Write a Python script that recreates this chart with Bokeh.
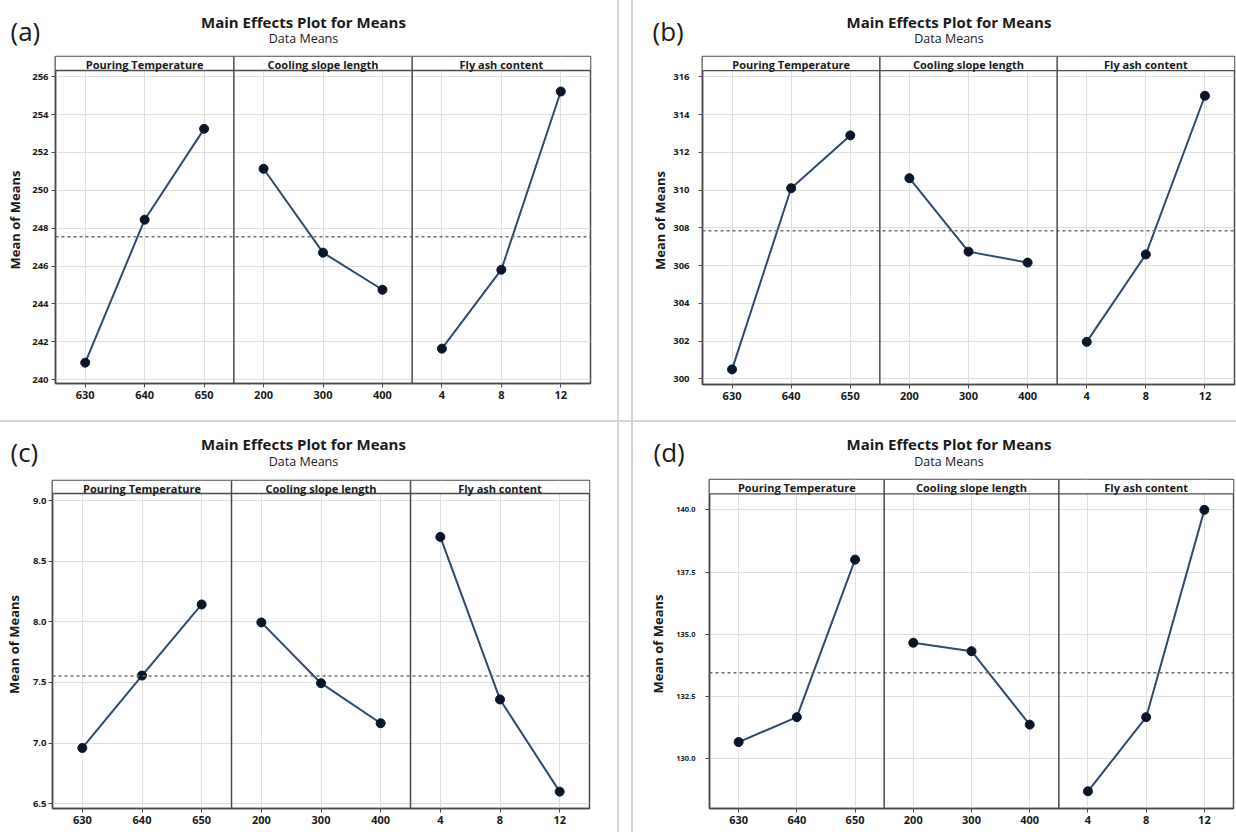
from bokeh.plotting import figure
from bokeh.models import Range1d, FixedTicker, Span, BoxAnnotation, Label, Div, NumeralTickFormatter
from bokeh.layouts import row, column
from bokeh.embed import file_html
from bokeh.resources import INLINE

# ---------------- data ----------------
factors = ["Pouring Temperature", "Cooling slope length", "Fly ash content"]
pouring_levels = ["630", "640", "650"]
cooling_levels = ["200", "300", "400"]
flyash_levels = ["4", "8", "12"]

a_pouring = [240.9, 248.45, 253.25]
a_cooling = [251.14, 246.71, 244.75]
a_flyash = [241.64, 245.81, 255.22]
a_mean = 247.55
a_yticks = [240, 242, 244, 246, 248, 250, 252, 254, 256]

b_pouring = [300.5, 310.1, 312.9]
b_cooling = [310.63, 306.74, 306.16]
b_flyash = [301.96, 306.59, 315.0]
b_mean = 307.85
b_yticks = [300, 302, 304, 306, 308, 310, 312, 314, 316]

c_pouring = [6.96, 7.557, 8.143]
c_cooling = [7.995, 7.494, 7.164]
c_flyash = [8.70, 7.36, 6.60]
c_mean = 7.553
c_yticks = [6.5, 7.0, 7.5, 8.0, 8.5, 9.0]

d_pouring = [130.67, 131.67, 138.0]
d_cooling = [134.66, 134.32, 131.37]
d_flyash = [128.69, 131.67, 140.0]
d_mean = 133.45
d_yticks = [130.0, 132.5, 135.0, 137.5, 140.0]

panel_tags = ["(a)", "(b)", "(c)", "(d)"]
title_text = "Main Effects Plot for Means"
subtitle_text = "Data Means"
ylabel_text = "Mean of Means"

# ---------------- styling / layout ----------------
FONT = "Open Sans"
DARK = "#4a4a4a"
GRID = "#dedede"
LINE = "#2d4b6b"
DOT = "#0a1628"
SEP = "#d6d6d6"
TXT = "#1a1a1a"

levels_all = [pouring_levels, cooling_levels, flyash_levels]


def make_header(tag, cfg):
    W, hh = cfg["w"], cfg["top"] - 2
    h = figure(width=W, height=hh, output_backend="svg", toolbar_location=None,
               x_range=Range1d(0, W), y_range=Range1d(hh, 0),
               x_axis_location=None, y_axis_location=None,
               min_border_left=0, min_border_right=0, min_border_top=0, min_border_bottom=0)
    h.frame_align = False
    h.title = None
    h.grid.visible = False
    h.outline_line_color = None
    h.background_fill_color = "white"
    h.border_fill_color = "white"
    h.add_layout(Label(x=cfg["tcx"], y=cfg["ty"], text=title_text, text_align="center",
                       text_baseline="middle", text_font=FONT, text_font_style="bold",
                       text_font_size="15px", text_color=TXT))
    h.add_layout(Label(x=cfg["tcx"], y=cfg["sy"], text=subtitle_text, text_align="center",
                       text_baseline="middle", text_font=FONT, text_font_size="12.5px",
                       text_color=TXT))
    h.add_layout(Label(x=cfg["gx"], y=cfg["gy"], text=tag, text_align="left",
                       text_baseline="middle", text_font=FONT, text_font_size="26px",
                       text_color=TXT))
    return h


def make_panel(tag, series, mean, yticks, cfg):
    W, H = cfg["w"], cfg["h"]
    L, R, T, B = cfg["left"], cfg["right"], cfg["top"], cfg["bottom"]
    hh = T - 2
    y0, y1 = cfg["yr"]
    x0, x1 = -0.5, 3 * len(series) - 0.5
    fh = H - T - B

    p = figure(width=W, height=H - hh, output_backend="svg", toolbar_location=None,
               x_range=Range1d(x0, x1), y_range=Range1d(y0, y1),
               min_border_left=L, min_border_right=R, min_border_top=2, min_border_bottom=B)
    p.frame_align = False
    p.title = None
    p.background_fill_color = "white"
    p.border_fill_color = "white"
    p.outline_line_color = DARK
    p.outline_line_width = 1.5

    # axes
    xt = list(range(3 * len(series)))
    labels = [lv for lvls in levels_all for lv in lvls]
    p.xaxis.ticker = FixedTicker(ticks=xt)
    p.xaxis.major_label_overrides = {t: lab for t, lab in zip(xt, labels)}
    p.yaxis.ticker = FixedTicker(ticks=yticks)
    if cfg.get("fmt"):
        p.yaxis.formatter = NumeralTickFormatter(format=cfg["fmt"])
    for ax in (p.xaxis, p.yaxis):
        ax.axis_line_color = DARK
        ax.axis_line_width = 1.5
        ax.major_tick_line_color = DARK
        ax.major_tick_out = 4
        ax.major_tick_in = 0
        ax.minor_tick_line_color = None
        ax.major_label_text_font = FONT
        ax.major_label_text_font_style = "bold"
        ax.major_label_text_color = TXT
    p.xaxis.major_label_text_font_size = "11px"
    p.xaxis.major_label_standoff = 3
    p.yaxis.major_label_text_font_size = cfg["ytick_fs"]
    p.yaxis.major_label_standoff = cfg["ystand"]
    p.yaxis.axis_label = ylabel_text
    p.yaxis.axis_label_text_font = FONT
    p.yaxis.axis_label_text_font_style = "bold"
    p.yaxis.axis_label_text_font_size = "13px"
    p.yaxis.axis_label_text_color = TXT
    p.yaxis.axis_label_standoff = cfg["lstand"]

    p.xgrid.grid_line_color = GRID
    p.ygrid.grid_line_color = GRID

    # data
    for k, vals in enumerate(series):
        xs = [3 * k + i for i in range(len(vals))]
        p.line(xs, vals, line_color=LINE, line_width=2)
        p.scatter(xs, vals, size=9, fill_color=DOT, line_color=DOT)

    # mean reference line
    p.add_layout(Span(location=mean, dimension="width", line_color="#6e6e6e",
                      line_dash="3 3", line_width=1.5))

    # facet header band
    hdr = cfg["header"]
    p.add_layout(BoxAnnotation(bottom=hdr, fill_color="white", fill_alpha=1.0, line_alpha=0))
    p.add_layout(Span(location=hdr, dimension="width", line_color=DARK, line_width=1.3))
    for k in range(1, len(series)):
        p.add_layout(Span(location=3 * k - 0.5, dimension="height", line_color=DARK, line_width=1.5))
    hy = y1 - 7.5 / fh * (y1 - y0)
    for k, name in enumerate(factors):
        p.add_layout(Label(x=3 * k + 1, y=hy, text=name, text_align="center",
                           text_baseline="middle", text_font=FONT, text_font_style="bold",
                           text_font_size="11px", text_color=TXT))

    return column(make_header(tag, cfg), p, spacing=0)


cfg_a = dict(w=617, h=420, left=55, right=27, top=56, bottom=37, yr=(239.80, 257.07),
             header=256.33, ytick_fs="9.5px", ystand=3, lstand=5,
             tcx=303, ty=21, sy=38, gx=10, gy=30)
cfg_b = dict(w=603, h=420, left=69, right=2, top=56, bottom=36, yr=(299.70, 317.08),
             header=316.33, ytick_fs="9.5px", ystand=9, lstand=1,
             tcx=315.5, ty=21, sy=38, gx=19, gy=30)
cfg_c = dict(w=617, h=410, left=52, right=28, top=58, bottom=24, yr=(6.461, 9.165),
             header=9.058, ytick_fs="9.5px", ystand=2, lstand=7, fmt="0.0",
             tcx=303, ty=21, sy=39, gx=10, gy=29)
cfg_d = dict(w=603, h=410, left=76, right=3, top=57, bottom=24, yr=(128.0, 141.22),
             header=140.64, ytick_fs="7.5px", ystand=10, lstand=6, fmt="0.0",
             tcx=315.5, ty=21, sy=39, gx=20, gy=29)

qa = make_panel(panel_tags[0], [a_pouring, a_cooling, a_flyash], a_mean, a_yticks, cfg_a)
qb = make_panel(panel_tags[1], [b_pouring, b_cooling, b_flyash], b_mean, b_yticks, cfg_b)
qc = make_panel(panel_tags[2], [c_pouring, c_cooling, c_flyash], c_mean, c_yticks, cfg_c)
qd = make_panel(panel_tags[3], [d_pouring, d_cooling, d_flyash], d_mean, d_yticks, cfg_d)


def vsep(h):
    return row(Div(width=2, height=h, margin=0, styles={"background-color": SEP}),
               Div(width=12, height=h, margin=0),
               Div(width=2, height=h, margin=0, styles={"background-color": SEP}),
               spacing=0)


hsep = Div(width=1236, height=2, margin=0, styles={"background-color": SEP})

root = column(row(qa, vsep(420), qb, spacing=0), hsep,
              row(qc, vsep(410), qd, spacing=0), spacing=0)

open("out.html", "w").write(file_html(root, INLINE))
